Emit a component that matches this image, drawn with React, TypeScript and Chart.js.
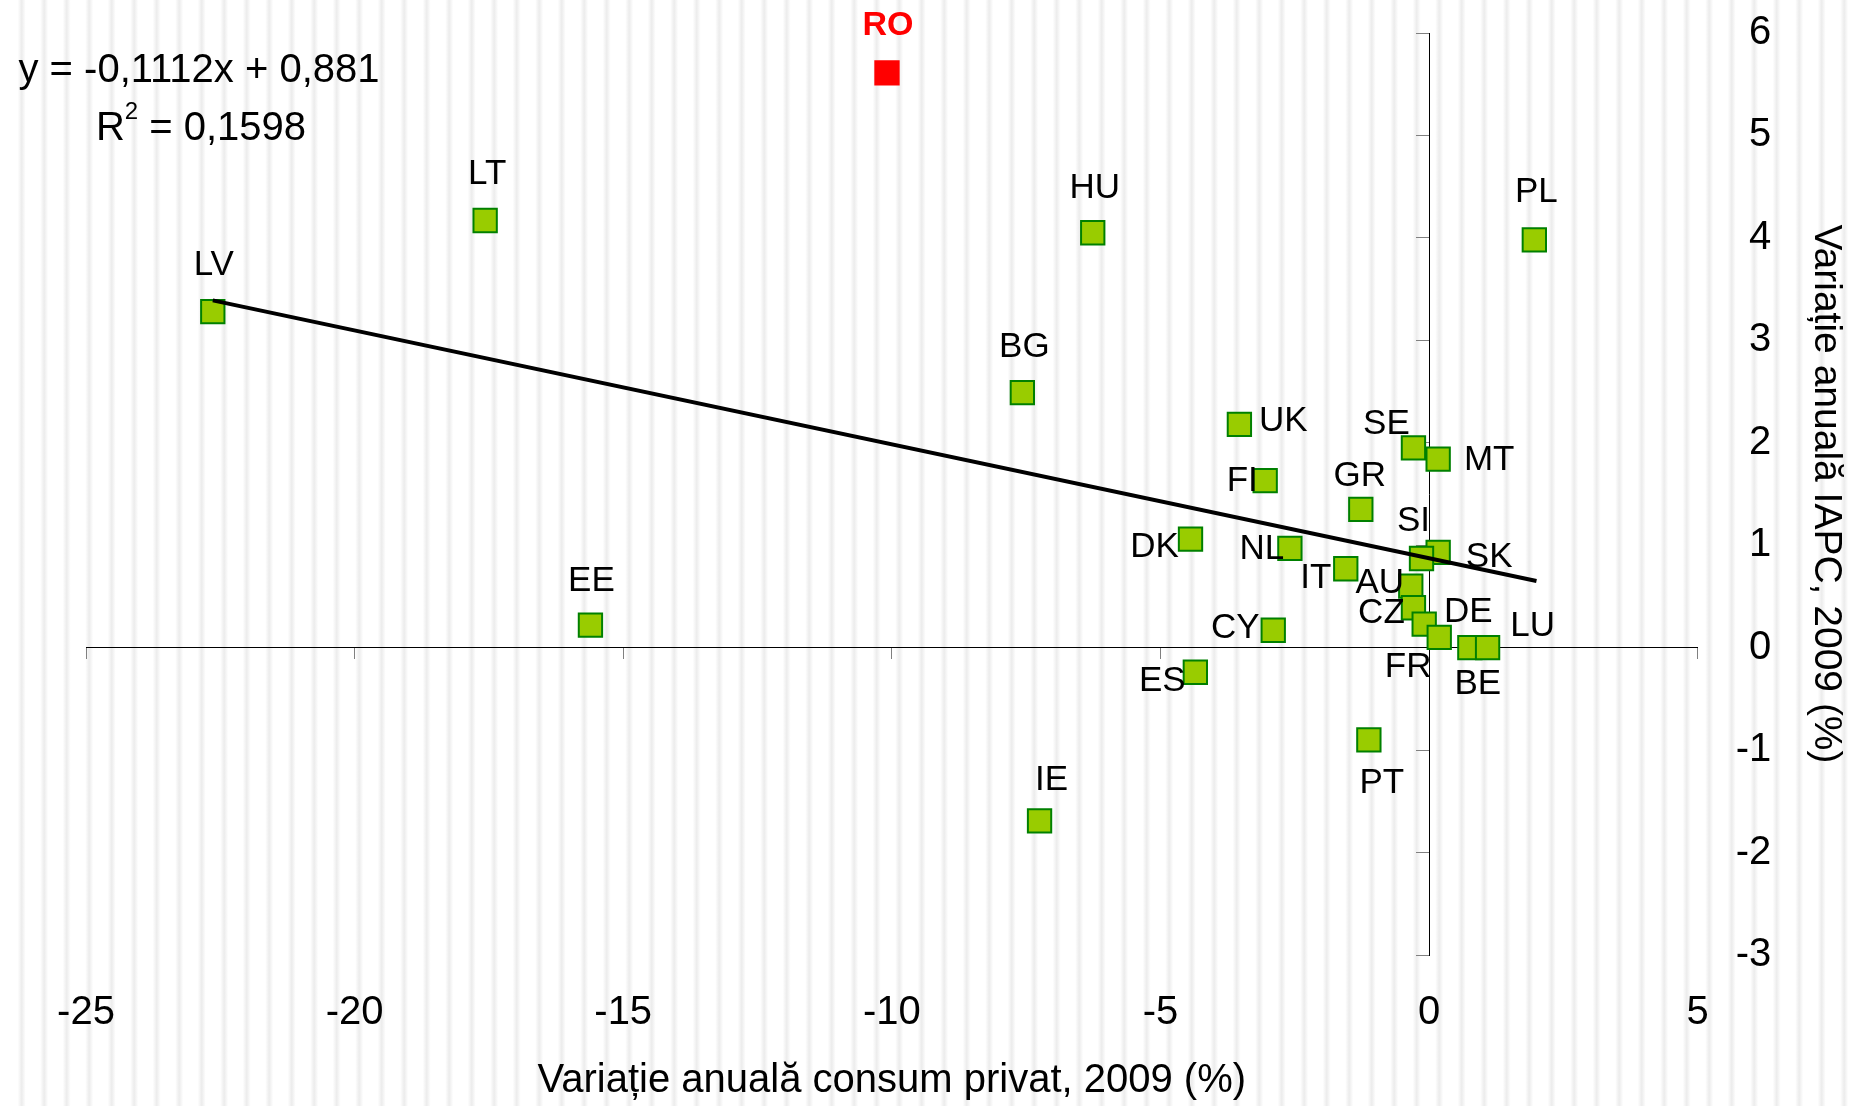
import React, { useEffect, useRef } from 'react';
import { Chart, registerables } from 'chart.js';

Chart.register(...registerables);

// ---- data ----
const countries = ['RO', 'LT', 'HU', 'PL', 'LV', 'BG', 'UK', 'SE', 'MT', 'FI', 'GR', 'DK', 'NL', 'SK', 'SI', 'IT', 'AU', 'CZ', 'FR', 'DE', 'BE', 'LU', 'CY', 'EE', 'ES', 'PT', 'IE'];
const consumption = [-10.09, -17.57, -6.26, 1.96, -22.64, -7.57, -3.53, -0.29, 0.17, -3.05, -1.27, -4.44, -2.59, 0.17, -0.14, -1.55, -0.34, -0.29, -0.09, 0.19, 0.76, 1.09, -2.9, -15.61, -4.35, -1.12, -7.25];
const hicp = [5.61, 4.17, 4.05, 3.98, 3.28, 2.49, 2.18, 1.95, 1.84, 1.63, 1.35, 1.06, 0.97, 0.93, 0.87, 0.77, 0.6, 0.39, 0.23, 0.1, 0.0, 0.0, 0.17, 0.22, -0.24, -0.9, -1.69];
const trendX = [-22.64, 2.0];
const trendY = [3.39, 0.65];
const xTicks = [-25, -20, -15, -10, -5, 0, 5];
const yTicks = [-3, -2, -1, 0, 1, 2, 3, 4, 5, 6];
const xTitle = 'Variație anuală consum privat, 2009 (%)';
const yTitle = 'Variație anuală IAPC, 2009 (%)';
const equationText = 'y = -0,1112x + 0,881';
const r2Value = ' = 0,1598';
const highlight = 'RO';

// ---- layout of point labels (offset of label centre from marker centre, px) ----
const labelOffsets: Record<string, [number, number]> = {
  RO: [1, -47], LT: [2, -46], HU: [2, -44], PL: [2, -48], LV: [1, -46], BG: [2, -45],
  EE: [1, -44], IE: [12, -40], UK: [44, -3], SE: [-27, -24], MT: [51, 1], FI: [-23, 1],
  GR: [-1, -33], DK: [-36, 8], NL: [-28, 1], IT: [-30, 10], SI: [-8, -37], SK: [51, 5],
  AU: [-31, -3], CZ: [-32, 6], FR: [-16, 43], DE: [29, -25], BE: [8, 37], LU: [45, -21],
  CY: [-38, -2], ES: [-33, 9], PT: [13, 43],
};

const FONT = '"Liberation Sans", Arial, sans-serif';

const stripesPlugin = {
  id: 'stripes',
  beforeDraw(chart: any) {
    const { ctx, width, height } = chart;
    ctx.save();
    ctx.fillStyle = '#ffffff';
    ctx.fillRect(0, 0, width, height);
    for (let x = 21.7; x < width + 10; x += 22.5) {
      const g = ctx.createLinearGradient(x - 4, 0, x + 4, 0);
      g.addColorStop(0, 'rgba(236,236,236,0)');
      g.addColorStop(0.5, 'rgba(236,236,236,1)');
      g.addColorStop(1, 'rgba(236,236,236,0)');
      ctx.fillStyle = g;
      ctx.fillRect(x - 4, 0, 8, height);
    }
    ctx.restore();
  },
};

const labelsPlugin = {
  id: 'pointLabels',
  afterDatasetsDraw(chart: any) {
    const { ctx } = chart;
    const meta = chart.getDatasetMeta(1);
    ctx.save();
    ctx.textAlign = 'center';
    ctx.textBaseline = 'middle';
    meta.data.forEach((el: any, i: number) => {
      const c = countries[i];
      const off = labelOffsets[c] || [0, -45];
      const isHi = c === highlight;
      ctx.font = (isHi ? 'bold 34px ' : '35px ') + FONT;
      ctx.fillStyle = isHi ? '#ff0000' : '#000000';
      ctx.fillText(c, el.x + off[0], el.y + off[1]);
    });
    // trendline equation
    ctx.fillStyle = '#000000';
    ctx.textBaseline = 'alphabetic';
    ctx.textAlign = 'center';
    ctx.font = '40px ' + FONT;
    ctx.fillText(equationText, 199, 82);
    ctx.textAlign = 'left';
    const wR = ctx.measureText('R').width;
    const wRest = ctx.measureText(r2Value).width;
    ctx.font = '24px ' + FONT;
    const w2 = ctx.measureText('2').width;
    const total = wR + w2 + wRest;
    const sx = 201 - total / 2;
    ctx.font = '40px ' + FONT;
    ctx.fillText('R', sx, 140);
    ctx.font = '24px ' + FONT;
    ctx.fillText('2', sx + wR, 119);
    ctx.font = '40px ' + FONT;
    ctx.fillText(r2Value, sx + wR + w2, 140);
    ctx.restore();
  },
};

export default function App() {
  const ref = useRef<HTMLCanvasElement | null>(null);

  useEffect(() => {
    if (!ref.current) return;
    Chart.defaults.font.family = FONT;
    const setX = (s: any) => { s.ticks = xTicks.map((v) => ({ value: v })); };
    const setY = (s: any) => { s.ticks = yTicks.map((v) => ({ value: v })); };
    const noPad = (s: any) => { s.paddingTop = 0; s.paddingBottom = 0; };
    const chart = new Chart(ref.current, {
      type: 'scatter',
      data: {
        datasets: [
          {
            label: 'trend',
            data: trendX.map((x, i) => ({ x, y: trendY[i] })),
            showLine: true,
            borderColor: '#000000',
            borderWidth: 4,
            pointRadius: 0,
            fill: false,
            order: 0,
          } as any,
          {
            label: 'tari',
            data: countries.map((_, i) => ({ x: consumption[i], y: hicp[i] })),
            pointStyle: 'rect',
            pointRadius: 16.5,
            pointBorderWidth: 2,
            pointBackgroundColor: (c: any) => (countries[c.dataIndex] === highlight ? '#ff0000' : '#99cc00'),
            pointBorderColor: (c: any) => (countries[c.dataIndex] === highlight ? '#ff0000' : '#008000'),
            order: 1,
          } as any,
        ],
      },
      options: {
        animation: false,
        responsive: true,
        maintainAspectRatio: false,
        events: [],
        layout: { padding: { top: 33, left: 86, right: 0, bottom: 0 } },
        plugins: { legend: { display: false }, tooltip: { enabled: false } },
        scales: {
          x: {
            type: 'linear', position: 'bottom', min: -25, max: 5,
            afterBuildTicks: setX,
            grid: { display: false, drawTicks: false },
            border: { display: false },
            ticks: { padding: 34, color: '#000', font: { size: 40 }, maxRotation: 0, autoSkip: false, callback: (v: any) => String(v) },
            title: { display: true, text: xTitle, color: '#000', font: { size: 40 }, padding: { top: -14, bottom: 1 } },
          },
          y: {
            type: 'linear', position: 'right', min: -3, max: 6,
            afterBuildTicks: setY,
            afterFit: noPad,
            grid: { display: false, drawTicks: false },
            border: { display: false },
            ticks: { padding: 19, color: '#000', font: { size: 40 }, crossAlign: 'far', autoSkip: false, callback: (v: any) => String(v) },
            title: { display: false },
          },
          yt: {
            type: 'linear', axis: 'y', position: 'right', min: -3, max: 6,
            afterFit: noPad,
            grid: { display: false, drawTicks: false },
            border: { display: false },
            ticks: { display: false },
            title: { display: true, text: yTitle, color: '#000', font: { size: 39, lineHeight: 1.2 }, padding: { top: 3, bottom: 31 } },
          },
          x2: {
            type: 'linear', position: { y: 0 }, min: -25, max: 5,
            afterBuildTicks: setX,
            grid: { drawOnChartArea: false, drawTicks: true, tickLength: 11, tickColor: '#808080', tickWidth: 1 },
            border: { display: true, color: '#000', width: 1 },
            ticks: { display: false },
          },
          y2: {
            type: 'linear', position: { x: 0 }, min: -3, max: 6,
            afterBuildTicks: setY,
            afterFit: noPad,
            grid: { drawOnChartArea: false, drawTicks: true, tickLength: 13, tickColor: '#808080', tickWidth: 1 },
            border: { display: true, color: '#000', width: 1 },
            ticks: { display: false },
          },
        } as any,
      },
      plugins: [stripesPlugin, labelsPlugin],
    });
    return () => chart.destroy();
  }, []);

  return (
    <div style={{ position: 'fixed', left: 0, top: 0, width: 1852, height: 1106 }}>
      <canvas ref={ref} />
    </div>
  );
}
